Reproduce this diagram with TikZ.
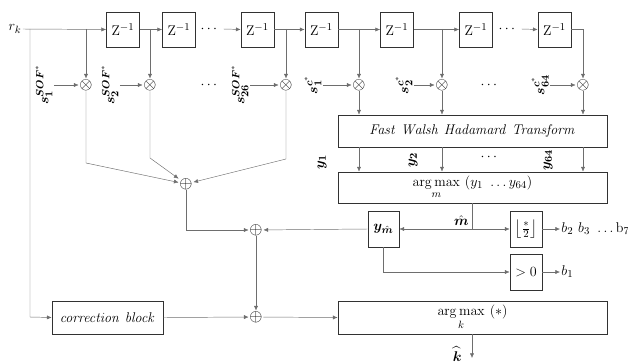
\documentclass[tikz,border=0pt]{standalone}
\usepackage{amsmath,amssymb,bm}
\usepackage{tikz}
\usetikzlibrary{arrows.meta, positioning, calc}
\definecolor{wiregray}{RGB}{110,110,110}
\definecolor{boxgray}{RGB}{50,50,50}

\begin{document}
\begin{tikzpicture}[x=0.3mm, y=-0.3mm,
  every node/.style={font=\fontsize{13}{15}\selectfont},
  blk/.style 2 args={draw=boxgray, semithick, inner sep=0pt,
    minimum width=#1*0.3mm, minimum height=#2*0.3mm},
  wire/.style={draw=wiregray},
  arr/.style={wire, -{Latex[length=4pt, width=3.5pt]}},
  opr/.style={inner sep=0.5pt, font=\fontsize{15}{17}\selectfont},
  lbl/.style={inner sep=1pt}
]
\useasboundingbox (0,0) rectangle (628,363);
% delay line
\node[lbl] (rk) at (15,29) {$r_k$};
\foreach \i/\x in {1/123, 2/179, 3/257.5, 4/321.5, 5/397, 6/476, 7/554.5}
  \node[blk={33}{35}] (d\i) at (\x,29.5) {$\mathrm{Z}^{-1}$};
\node (dotsA) at (210,29) {$\cdots$};
\node (dotsB) at (508,29) {$\cdots$};
\draw[arr] (rk.east) -- (d1.west);
\draw[arr] (d1.east) -- (d2.west);
\draw[arr] (dotsA.east) -- (d3.west);
\draw[arr] (d3.east) -- (d4.west);
\draw[arr] (d4.east) -- (d5.west);
\draw[arr] (d5.east) -- (d6.west);
\draw[arr] (dotsB.east) -- (d7.west);
% multipliers
\foreach \i/\x in {1/86, 2/150, 3/286, 4/359, 5/442, 6/583}
  \node[opr] (m\i) at (\x,85) {$\otimes$};
\node (dotsC) at (210,85) {$\cdots$};
\node (dotsD) at (490,85) {$\cdots$};
\draw[arr] (m1 |- rk) -- (m1);
\draw[arr] (m2 |- rk) -- (m2);
\draw[arr] (m3 |- rk) -- (m3);
\draw[arr] (m4 |- rk) -- (m4);
\draw[arr] (m5 |- rk) -- (m5);
\draw[arr] (d7.east) -| (m6);
% reference sequences
\node[lbl, rotate=90] (s1) at (44,85) {$\bm{s}_{\bm{1}}^{\bm{SOF}^{*}}$};
\node[lbl, rotate=90] (s2) at (110,85) {$\bm{s}_{\bm{2}}^{\bm{SOF}^{*}}$};
\node[lbl, rotate=90] (s26) at (240,85) {$\bm{s}_{\bm{26}}^{\bm{SOF}^{*}}$};
\node[lbl, rotate=90] (c1) at (313,85) {$\bm{s}_{\bm{1}}^{\bm{c}^{*}}$};
\node[lbl, rotate=90] (c2) at (404,85) {$\bm{s}_{\bm{2}}^{\bm{c}^{*}}$};
\node[lbl, rotate=90] (c64) at (540,85) {$\bm{s}_{\bm{64}}^{\bm{c}^{*}}$};
\draw[arr] (s1.south) -- (m1);
\draw[arr] (s2.south) -- (m2);
\draw[arr] (s26.south) -- (m3);
\draw[arr] (c1.south) -- (m4);
\draw[arr] (c2.south) -- (m5);
\draw[arr] (c64.south) -- (m6);
% SOF sum
\node[opr] (a1) at (186,184) {$\oplus$};
\draw[arr] (m1) -- (86,163) -- (a1);
\draw[arr] (m2) -- (150,158) -- (a1);
\draw[arr] (m3) -- (286,159) -- (a1);
% transform and decision
\node[blk={269}{32}] (fwht) at (472.5,131) {$\mathit{Fast\ Walsh\ Hadamard\ Transform}$};
\draw[arr] (m4) -- (m4 |- fwht.north);
\draw[arr] (m5) -- (m5 |- fwht.north);
\draw[arr] (m6) -- (m6 |- fwht.north);
\node[blk={269}{31}] (am) at (472.5,187.5) {$\displaystyle\operatorname*{arg\,max}_{m}\ (y_1\ \ldots y_{64})$};
\draw[arr] (m4 |- fwht.south) -- (m4 |- am.north);
\draw[arr] (m5 |- fwht.south) -- (m5 |- am.north);
\draw[arr] (m6 |- fwht.south) -- (m6 |- am.north);
\node[lbl, rotate=90] at (322,162) {$\bm{y}_{\bm{1}}$};
\node[lbl, rotate=90] at (413,160) {$\bm{y}_{\bm{2}}$};
\node[lbl] at (490,157) {$\cdots$};
\node[lbl, rotate=90] at (548,160) {$\bm{y}_{\bm{64}}$};
\node[blk={31}{36}] (ym) at (383.5,229) {$\bm{y}_{\hat{\bm{m}}}$};
\node[blk={32}{36}] (fl) at (526,229) {$\left\lfloor\frac{*}{2}\right\rfloor$};
\node[blk={32}{36}] (gt) at (526,272) {$>0$};
\coordinate (mh) at (472,229);
\draw[wire] (am.south -| mh) -- (mh);
\draw[arr] (mh) -- (ym.east);
\draw[arr] (mh) -- (fl.west);
\node[lbl, anchor=south east] at ($(mh)+(-2,-2)$) {$\hat{\bm{m}}$};
\node[lbl, anchor=west] (bits) at (560,229) {$b_2\ b_3\ \ldots\mathrm{b}_7$};
\node[lbl, anchor=west] (b1) at (560,272) {$b_1$};
\draw[arr] (fl.east) -- (bits.west);
\draw[arr] (gt.east) -- (b1.west);
\draw[arr] (ym.south) |- (gt.west);
% combining
\node[opr] (a2) at (256,230) {$\oplus$};
\node[opr] (a3) at (256,317) {$\oplus$};
\draw[arr] (ym.west) -- (a2);
\draw[arr] (a1) |- (a2);
\draw[arr] (a2) -- (a3);
\node[blk={111}{33}] (corr) at (107.5,317.5) {$\mathit{correction\ block}$};
\draw[arr] (30,29) -- (30,317) -- (corr.west);
\draw[arr] (corr.east) -- (a3);
\node[blk={269}{33}] (ak) at (472.5,317.5) {$\displaystyle\operatorname*{arg\,max}_{k}\ (*)$};
\draw[arr] (a3) -- (ak.west);
\coordinate (kout) at (472,358);
\draw[arr] (ak.south -| kout) -- (kout);
\node[lbl, anchor=east] at (463,354) {$\widehat{\bm{k}}$};
\end{tikzpicture}
\end{document}
